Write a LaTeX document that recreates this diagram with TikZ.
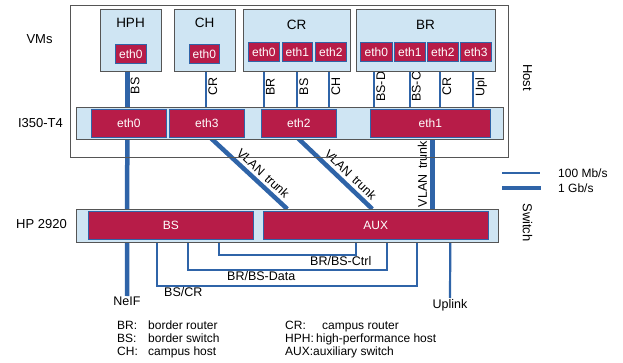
\documentclass[tikz,border=0pt]{standalone}
\usepackage{fontspec}
\setmainfont{Liberation Sans}
\usetikzlibrary{calc}
\definecolor{crim}{HTML}{B71C48}
\definecolor{lblue}{HTML}{CFE5F3}
\definecolor{lnblue}{HTML}{2F64A8}
\definecolor{boxgray}{HTML}{555555}
\pgfdeclarelayer{bg}
\pgfsetlayers{bg,main}
\begin{document}
\begin{tikzpicture}[x=1pt,y=-1pt,
  lb/.style={draw=boxgray, fill=lblue, line width=0.8pt, anchor=north west, inner sep=0pt},
  ethbox/.style={draw=lnblue, fill=crim, line width=0.6pt, anchor=north west, inner sep=0pt, text=white, font=\fontsize{12}{14}\selectfont},
  mb/.style={draw=lnblue, line width=2.2pt},
  gb/.style={draw=lnblue, line width=4.5pt},
  lab/.style={font=\fontsize{12.5}{14}\selectfont, inner sep=1pt},
  vlab/.style={lab, rotate=90, anchor=north},
  tlab/.style={lab, sloped, anchor=south, inner sep=3pt},
  side/.style={font=\fontsize{13}{15}\selectfont, inner sep=0pt}
]
\useasboundingbox (0,0) rectangle (623,363);
% Host box
\node[draw=boxgray, line width=0.8pt, anchor=north west, minimum width=438pt, minimum height=152pt] (host) at (70,5) {};
% VM boxes
\node[lb, minimum width=61pt, minimum height=62pt] (hph) at (100,9) {};
\node[lb, minimum width=61pt, minimum height=62pt] (ch) at (174,9) {};
\node[lb, minimum width=107pt, minimum height=62pt] (cr) at (243,9) {};
\node[lb, minimum width=139pt, minimum height=62pt] (br) at (356,9) {};
\node[font=\fontsize{13.5}{15}\selectfont] (hphl) at (130.5,23) {HPH};
\node[font=\fontsize{13.5}{15}\selectfont] (chl) at (204.5,23) {CH};
\node[font=\fontsize{13.5}{15}\selectfont] (crl) at (296.5,25) {CR};
\node[font=\fontsize{13.5}{15}\selectfont] (brl) at (425.5,25) {BR};
% VM eths
\node[ethbox, minimum width=31pt, minimum height=19pt] (hphe0) at (115,44) {eth0};
\node[ethbox, minimum width=30pt, minimum height=19pt] (che0) at (189,44) {eth0};
\node[ethbox, minimum width=31pt, minimum height=19pt] (cre0) at (248,42) {eth0};
\node[ethbox, minimum width=30pt, minimum height=19pt] (cre1) at (282,42) {eth1};
\node[ethbox, minimum width=31pt, minimum height=19pt] (cre2) at (315,42) {eth2};
\node[ethbox, minimum width=32pt, minimum height=19pt] (bre0) at (360,42) {eth0};
\node[ethbox, minimum width=31pt, minimum height=19pt] (bre1) at (394,42) {eth1};
\node[ethbox, minimum width=31pt, minimum height=19pt] (bre2) at (427,42) {eth2};
\node[ethbox, minimum width=31pt, minimum height=19pt] (bre3) at (460,42) {eth3};
% I350 band
\node[lb, minimum width=427pt, minimum height=32pt] (nic) at (76,107) {};
\node[ethbox, minimum width=75pt, minimum height=28pt] (n0) at (91,109) {eth0};
\node[ethbox, minimum width=75pt, minimum height=28pt] (n3) at (169,109) {eth3};
\node[ethbox, minimum width=75pt, minimum height=28pt] (n2) at (261,109) {eth2};
\node[ethbox, minimum width=120pt, minimum height=28pt] (n1) at (370,109) {eth1};
% Switch band
\node[lb, minimum width=422pt, minimum height=33pt] (sw) at (76,209) {};
\node[ethbox, minimum width=165pt, minimum height=28pt] (bs) at (88,211) {BS};
\node[ethbox, minimum width=225pt, minimum height=28pt] (aux) at (263,211) {AUX};
% end labels
\node[lab, anchor=north] (neif) at (127,296) {NeIF};
\node[lab, anchor=north] (upl) at (450,298) {Uplink};
% side labels
\node[side] (vms) at (39.5,39) {VMs};
\node[side] (i350) at (40.5,123) {I350-T4};
\node[side] (hp) at (41.5,224) {HP 2920};
\node[side, rotate=-90] (hostl) at (527.5,77.5) {Host};
\node[side, rotate=-90] (swl) at (527.5,222.5) {Switch};
% legend
\coordinate (lg1a) at (502,173);
\coordinate (lg1b) at (540,173);
\coordinate (lg2a) at (502,188);
\coordinate (lg2b) at (541,188);
\draw[mb] (lg1a) -- (lg1b);
\draw[gb] (lg2a) -- (lg2b);
\node[lab, anchor=west, font=\fontsize{12}{14}\selectfont] (l100) at (557,173) {100 Mb/s};
\node[lab, anchor=west, font=\fontsize{12}{14}\selectfont] (l1g) at (557,188) {1 Gb/s};
% bottom legend
\begin{scope}[every node/.style={lab, anchor=base west, font=\fontsize{12}{14}\selectfont, inner sep=0pt}]
\node (k1) at (117,329) {BR:};
\node (k1t) at (148,329) {border router};
\node (k2) at (117,342) {BS:};
\node (k2t) at (148,342) {border switch};
\node (k3) at (117,355) {CH:};
\node (k3t) at (148,355) {campus host};
\node (k4) at (285,329) {CR:};
\node (k4t) at (322,329) {campus router};
\node (k5) at (285,342) {HPH:};
\node (k5t) at (316,342) {high-performance host};
\node (k6) at (285,355) {AUX:};
\node (k6t) at (313,355) {auxiliary switch};
\end{scope}
% connectors (behind)
\begin{pgfonlayer}{bg}
\draw[gb] ([xshift=-3.5pt]hphe0.south |- hph.south) -- ([xshift=-3.5pt]hphe0.south |- nic.north)
  node[vlab, pos=0.47, xshift=2.5pt] {BS};
\draw[mb] ([xshift=2pt]che0.south |- ch.south) -- ([xshift=2pt]che0.south |- nic.north)
  node[vlab, pos=0.47, xshift=1.5pt] {CR};
\draw[mb] (cre0.south |- cr.south) -- (cre0.south |- nic.north) node[vlab, pos=0.47, xshift=1.5pt] {BR};
\draw[mb] (cre1.south |- cr.south) -- (cre1.south |- nic.north) node[vlab, pos=0.47, xshift=1.5pt] {BS};
\draw[mb] ([xshift=-1.5pt]cre2.south |- cr.south) -- ([xshift=-1.5pt]cre2.south |- nic.north) node[vlab, pos=0.47, xshift=1.5pt] {CH};
\draw[mb] ([xshift=-2pt]bre0.south |- br.south) -- ([xshift=-2pt]bre0.south |- nic.north) node[vlab, pos=0.47, xshift=1.5pt] {BS-D};
\draw[mb] (bre1.south |- br.south) -- (bre1.south |- nic.north) node[vlab, pos=0.47, xshift=1.5pt] {BS-C};
\draw[mb] ([xshift=-2.5pt]bre2.south |- br.south) -- ([xshift=-2.5pt]bre2.south |- nic.north) node[vlab, pos=0.47, xshift=1.5pt] {CR};
\draw[mb] ([xshift=-2.5pt]bre3.south |- br.south) -- ([xshift=-2.5pt]bre3.south |- nic.north) node[vlab, pos=0.47, xshift=1.5pt] {Upl};
% NIC to switch
\draw[gb] ([xshift=-1.5pt]n0.south) -- (neif.north);
\draw[gb] ([xshift=3.5pt]n3.south) -- ([xshift=-88.5pt]aux.north |- sw.north)
  node[tlab, pos=0.6] {VLAN\, trunk};
\draw[gb] ([xshift=-1.5pt]n2.south) -- ([xshift=-3.5pt]aux.north |- sw.north)
  node[tlab, pos=0.62] {VLAN\, trunk};
\draw[gb] ([xshift=56.5pt]aux.north |- sw.north) -- ([xshift=2pt]n1.south)
  node[tlab, pos=0.49] {VLAN\, trunk};
% switch internal links
\draw[mb] ([xshift=-13.5pt]bs.south |- sw.south) -- ++(0,43) -| ([xshift=41.5pt]aux.south |- sw.south);
\draw[mb] ([xshift=17.5pt]bs.south |- sw.south) -- ++(0,27) -| ([xshift=11.5pt]aux.south |- sw.south);
\draw[mb] ([xshift=48.5pt]bs.south |- sw.south) -- ++(0,12) -| ([xshift=-19.5pt]aux.south |- sw.south);
\draw[mb] ([xshift=74.5pt]aux.south |- sw.south) -- (upl.north);
\end{pgfonlayer}
\node[lab, anchor=base west] (lctrl) at (309,265) {BR/BS-Ctrl};
\node[lab, anchor=base west] (ldata) at (226,280) {BR/BS-Data};
\node[lab, anchor=base west] (lbscr) at (163,296) {BS/CR};
\end{tikzpicture}
\end{document}
